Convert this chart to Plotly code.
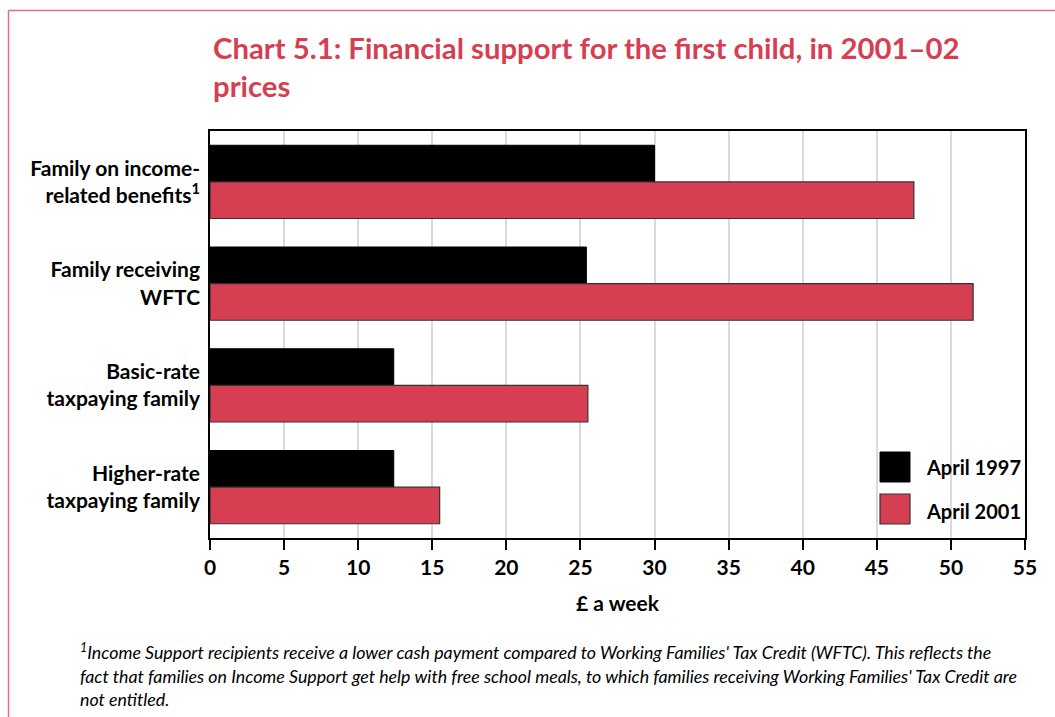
import plotly.graph_objects as go

categories = ["Family on income-<br>related benefits<sup>1</sup>", "Family receiving<br>WFTC",
              "Basic-rate<br>taxpaying family", "Higher-rate<br>taxpaying family"]
april_1997 = [30.0, 25.4, 12.4, 12.4]
april_2001 = [47.5, 51.5, 25.5, 15.5]
series_names = ["April 1997", "April 2001"]
x_ticks = list(range(0, 56, 5))

RED = "#D63F52"
FONT = "Lato"

W, H = 1055, 717
L, R, T, B = 210, 1025, 131, 538

def px(x):
    return (x - L) / (R - L)

def py(y):
    return (B - y) / (B - T)

fig = go.Figure()
fig.add_trace(go.Bar(y=categories, x=april_1997, orientation="h", name=series_names[0],
                     marker=dict(color="black", line=dict(color="black", width=1))))
fig.add_trace(go.Bar(y=categories, x=april_2001, orientation="h", name=series_names[1],
                     marker=dict(color=RED, line=dict(color="#333333", width=1.2))))

shapes = []
# outer red frame
shapes.append(dict(type="line", xref="paper", yref="paper", x0=px(8.5), x1=px(1060), y0=py(10.5), y1=py(10.5),
                   line=dict(color="#E0707C", width=1.5)))
shapes.append(dict(type="line", xref="paper", yref="paper", x0=px(8.5), x1=px(8.5), y0=py(10.5), y1=py(720),
                   line=dict(color="#E0707C", width=1.5)))
# legend squares
shapes.append(dict(type="rect", xref="paper", yref="paper", x0=px(880), x1=px(910), y0=py(452), y1=py(482),
                   fillcolor="black", line=dict(color="black", width=1)))
shapes.append(dict(type="rect", xref="paper", yref="paper", x0=px(880), x1=px(910), y0=py(494), y1=py(524),
                   fillcolor=RED, line=dict(color="#333333", width=1.2)))

annotations = [
    dict(text="Chart 5.1: Financial support for the first child, in 2001–02<br>prices",
         xref="paper", yref="paper", x=px(211), y=py(28), xanchor="left", yanchor="top",
         align="left", showarrow=False, font=dict(family=FONT, size=29.3, color=RED, weight="bold")),
    dict(text=series_names[0], xref="paper", yref="paper", x=px(924), y=py(467), xanchor="left",
         yanchor="middle", showarrow=False, font=dict(family=FONT, size=20, color="black", weight="bold")),
    dict(text=series_names[1], xref="paper", yref="paper", x=px(924), y=py(511), xanchor="left",
         yanchor="middle", showarrow=False, font=dict(family=FONT, size=20, color="black", weight="bold")),
    dict(text="<sup>1</sup>Income Support recipients receive a lower cash payment compared to Working Families' Tax Credit (WFTC). This reflects the<br>"
              "fact that families on Income Support get help with free school meals, to which families receiving Working Families' Tax Credit are<br>"
              "not entitled.",
         xref="paper", yref="paper", x=px(78), y=py(638), xanchor="left", yanchor="top", align="left",
         showarrow=False, font=dict(family=FONT, size=17.8, color="black", style="italic")),
]

fig.update_layout(
    width=W, height=H,
    margin=dict(l=L, r=W - R, t=T, b=H - B, pad=0),
    paper_bgcolor="white", plot_bgcolor="white",
    barmode="group", bargap=0.28, bargroupgap=0,
    showlegend=False,
    shapes=shapes, annotations=annotations,
    font=dict(family=FONT, color="black"),
)
fig.update_xaxes(range=[0, 55], tickvals=x_ticks, ticks="outside", ticklen=10, tickwidth=1.5,
                 tickcolor="black", showline=True, linecolor="black", linewidth=1.5, mirror=True,
                 showgrid=True, gridcolor="#DADADA", gridwidth=1.5, zeroline=False,
                 tickfont=dict(family=FONT, size=21, color="black", weight="bold"),
                 title=dict(text="£ a week", standoff=18, font=dict(family=FONT, size=21, color="black", weight="bold")))
fig.update_yaxes(autorange="reversed", showline=True, linecolor="black", linewidth=1.5, mirror=True,
                 ticks="", showgrid=False,
                 tickfont=dict(family=FONT, size=21, color="black", weight="bold"), ticklabelstandoff=4)

fig.write_html("out.html")
